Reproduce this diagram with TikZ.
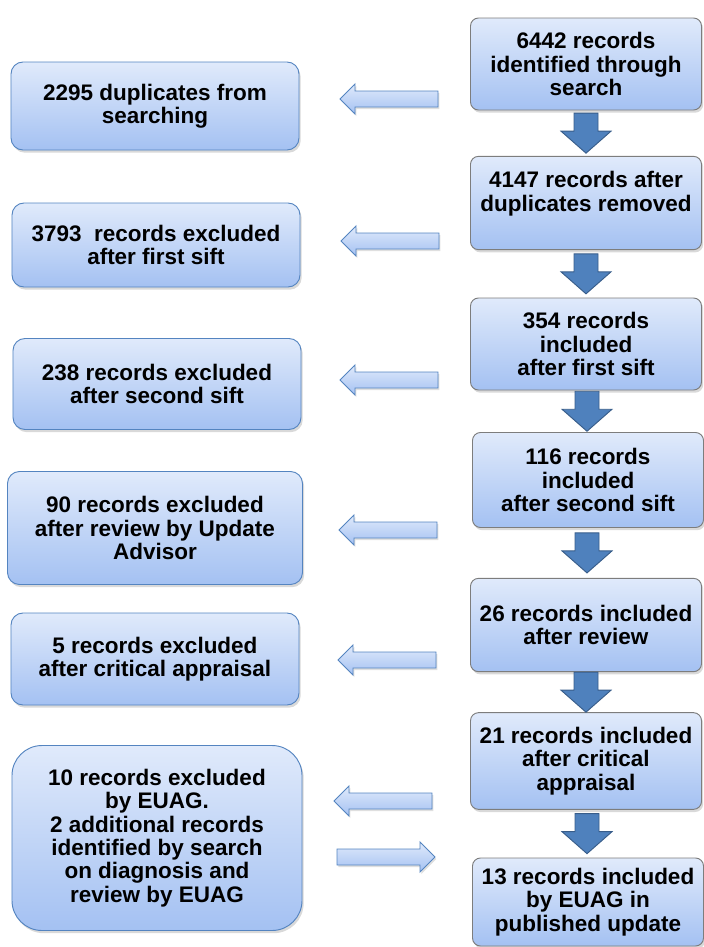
\documentclass[tikz,border=0pt]{standalone}
\usepackage{fontspec}
\setmainfont{Liberation Sans}
\usepackage{xcolor}
\usepackage{tikz}
\usetikzlibrary{arrows.meta, positioning, shadows, calc}

\definecolor{boxtop}{RGB}{224,234,251}
\definecolor{boxbot}{RGB}{164,193,242}
\definecolor{bordblue}{RGB}{84,132,192}
\definecolor{bordgray}{RGB}{125,125,125}
\definecolor{arrfill}{RGB}{79,129,189}
\definecolor{arrline}{RGB}{56,93,138}

\tikzset{
    pics/leftarr/.style={code={
        \path[draw=bordblue, line width=0.8pt, top color=boxtop, bottom color=boxbot,
              drop shadow={opacity=0.25, shadow xshift=0.04cm, shadow yshift=-0.06cm}]
            (-49,0) -- (-34,-15) -- (-34,-8) -- (49,-8) -- (49,8) -- (-34,8) -- (-34,15) -- cycle;
    }},
    pics/downarr/.style={code={
        \path[draw=arrline, line width=0.8pt, fill=arrfill]
            (-12,-20) -- (12,-20) -- (12,-2) -- (25,-2) -- (0,20) -- (-25,-2) -- (-12,-2) -- cycle;
    }}
}

\begin{document}
\begin{tikzpicture}[
    x=0.03cm, y=-0.03cm,
    txt/.style={font=\fontsize{19.2}{20}\selectfont\bfseries, align=center, inner sep=0pt},
    incl/.style={txt, draw=bordgray, line width=0.8pt, rounded corners=0.24cm, top color=boxtop, bottom color=boxbot,
        minimum width=6.93cm, minimum height=2.8cm,
        drop shadow={opacity=0.3, shadow xshift=0.05cm, shadow yshift=-0.08cm}},
    excl/.style={txt, draw=bordblue, line width=0.8pt, rounded corners=0.36cm, top color=boxtop, bottom color=boxbot,
        minimum width=8.64cm,
        drop shadow={opacity=0.3, shadow xshift=0.05cm, shadow yshift=-0.08cm}}
]
\useasboundingbox (0,0) rectangle (704,947);

% Included records (right column)
\node[incl, minimum height=2.76cm] (r1) at (586,64) {6442 records\\identified through\\search};
\node[incl] (r2) at (586,203) {4147 records after\\duplicates removed\\~};
\node[incl, minimum height=2.76cm] (r3) at (586,344) {354 records\\included\\after first sift};
\node[incl, minimum height=2.85cm] (r4) at (588,480) {116 records\\included\\after second sift};
\node[incl] (r5) at (586,625) {26 records included\\after review};
\node[incl, minimum height=2.9cm] (r6) at (586,761) {21 records included\\after critical\\appraisal};
\node[incl, minimum height=2.64cm] (r7) at (588,902) {13 records included\\by EUAG in\\published update};

% Excluded records (left column)
\node[excl, minimum height=2.64cm] (l1) at (155,106) {2295 duplicates from\\searching};
\node[excl, minimum height=2.52cm] (l2) at (156,245) {3793~ records excluded\\after first sift};
\node[excl, minimum height=2.73cm] (l3) at (157,384) {238 records excluded\\after second sift};
\node[excl, minimum height=3.39cm, minimum width=8.85cm] (l4) at (155,528) {90 records excluded\\after review by Update\\Advisor};
\node[excl, minimum height=2.76cm] (l5) at (155,659) {5 records excluded\\after critical appraisal};
\node[excl, minimum height=5.55cm, minimum width=8.7cm, rounded corners=0.9cm] (l6) at (157,838) {10 records excluded\\by EUAG.\\2 additional records\\identified by search\\on diagnosis and\\review by EUAG};

% Flow downwards
\pic (d1) at ($(r1.south)!0.5!(r2.north)$) {downarr};
\pic (d2) at ($(r2.south)!0.5!(r3.north)$) {downarr};
\pic (d3) at ($(r3.south)!0.5!(r4.north)$) {downarr};
\pic (d4) at ($(r4.south)!0.5!(r5.north)$) {downarr};
\pic (d5) at ($(r5.south)!0.5!(r6.north)$) {downarr};
\pic (d6) at ($(r6.south)!0.5!(r7.north)$) {downarr};

% Exclusions
\pic (a1) at (389,99) {leftarr};
\pic (a2) at (390,241) {leftarr};
\pic (a3) at (389,380) {leftarr};
\pic (a4) at (388,530) {leftarr};
\pic (a5) at (387,660) {leftarr};
\pic (a6) at (383,801) {leftarr};
\pic[xscale=-1] (a7) at (386,857) {leftarr};

\end{tikzpicture}
\end{document}
